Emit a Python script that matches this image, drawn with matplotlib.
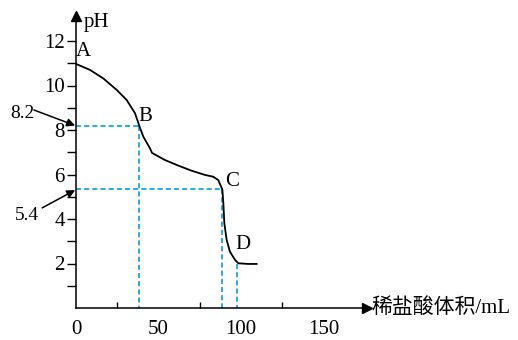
import matplotlib
matplotlib.use('Agg')
import matplotlib.pyplot as plt

# Titration curve (volume of dilute HCl in mL, pH)
volume = [0, 8.5, 16.5, 24.7, 30.7, 35.8, 38.2, 40.8, 44.8, 46.1, 53.9, 62, 70.1,
          78.2, 83.2, 86.2, 88.7, 89.3, 89.9, 91.3, 93.3, 96.4, 98.4, 104.4, 109.5]
ph = [10.97, 10.70, 10.32, 9.80, 9.35, 8.75, 8.22, 7.70, 7.18, 6.97, 6.65, 6.40, 6.17,
      5.98, 5.90, 5.75, 5.33, 4.71, 3.81, 3.06, 2.53, 2.16, 2.01, 1.98, 1.98]

# marked points
point_names = ['A', 'B', 'C', 'D']
point_x = [0, 38.2, 88.7, 97.4]
point_ph = [11.0, 8.2, 5.35, 2.0]

# axis ticks
xtick_major = [0, 50, 100, 150]
xtick_minor = [25, 75, 125]
ytick_values = list(range(1, 13))
ytick_labels = [str(v) if v % 2 == 0 else '' for v in ytick_values]

serif = ['Liberation Serif', 'Noto Sans CJK SC']
plt.rcParams['font.family'] = serif
fs = 15
blue = '#29abe2'

fig = plt.figure(figsize=(5.18, 3.40), dpi=100)
ax = fig.add_axes([76 / 518, 32 / 340, 291 / 518, 292 / 340])
ax.set_xlim(0, 291 / 1.65)
ax.set_ylim(0, 292 / 22.25)

for s in ['top', 'right']:
    ax.spines[s].set_visible(False)
for s in ['left', 'bottom']:
    ax.spines[s].set_linewidth(1.1)
ax.plot(1, 0, '>k', ms=7, transform=ax.transAxes, clip_on=False)
ax.plot(0, 1, '^k', ms=7, transform=ax.transAxes, clip_on=False)

# ticks
ax.set_yticks(ytick_values)
ax.set_yticklabels(ytick_labels)
ax.tick_params(axis='y', direction='out', length=6.5, width=1, pad=1.5, labelsize=fs)
ax.set_xticks(xtick_major)
ax.set_xticks(xtick_minor, minor=True)
ax.tick_params(axis='x', which='both', direction='in', length=4, width=1, pad=8.5, labelsize=fs)
ax.tick_params(axis='x', which='major', length=0)

# dashed guides
bx, cx, dx = point_x[1], point_x[2], point_x[3]
bph, cph, dph = point_ph[1], point_ph[2], point_ph[3]
dash = dict(color=blue, lw=1.4, ls=(0, (2.6, 1.6)))
ax.plot([0, bx], [bph, bph], **dash)
ax.plot([bx, bx], [bph, 0], **dash)
ax.plot([0, cx], [cph, cph], **dash)
ax.plot([cx, cx], [cph, 0], **dash)
ax.plot([dx, dx], [dph, 0], **dash)

# curve
ax.plot(volume, ph, color='black', lw=1.3)

# point labels
label_offsets = [(4.5, 0.55), (4.0, 0.4), (6.0, 0.35), (3.5, 0.85)]
for name, x, y, (ox, oy) in zip(point_names, point_x, point_ph, label_offsets):
    ax.text(x + ox, y + oy, name, fontsize=fs, ha='center', va='center')

# axis labels
ax.text(4.8, 12.85, 'pH', fontsize=fs, ha='left', va='center')
ax.text(179, 0, '稀盐酸体积/mL', fontsize=fs, ha='left', va='center', family=serif)

# arrows pointing to the values on the pH axis
arrow = dict(arrowstyle='-|>', color='black', lw=1.1, mutation_scale=12, shrinkA=0, shrinkB=0)
ax.text(-32.5, 8.75, '8.2', fontsize=fs - 1, ha='center', va='center')
ax.annotate('', xy=(-0.5, 8.2), xytext=(-25.5, 8.9), arrowprops=arrow, annotation_clip=False)
ax.text(-29.5, 4.15, '5.4', fontsize=fs - 1, ha='center', va='center')
ax.annotate('', xy=(-0.5, 5.3), xytext=(-20.5, 4.5), arrowprops=arrow, annotation_clip=False)

fig.savefig('out.png', dpi=100)
